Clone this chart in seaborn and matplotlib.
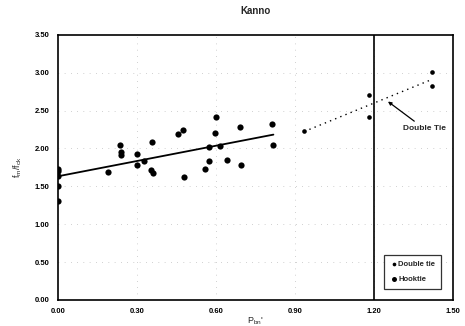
import numpy as np
import pandas as pd
import matplotlib
matplotlib.use("Agg")
import matplotlib.pyplot as plt
import seaborn as sns

# values
hook_x = [0.00, 0.00, 0.00, 0.00, 0.00, 0.19, 0.235, 0.238, 0.24, 0.30, 0.30,
          0.325, 0.357, 0.352, 0.36, 0.456, 0.476, 0.48, 0.56, 0.575, 0.575,
          0.598, 0.599, 0.615, 0.643, 0.691, 0.695, 0.814, 0.818]
hook_y = [1.73, 1.70, 1.64, 1.50, 1.30, 1.69, 2.05, 1.95, 1.91, 1.93, 1.78,
          1.84, 2.09, 1.71, 1.67, 2.19, 2.25, 1.62, 1.73, 1.84, 2.02,
          2.20, 2.42, 2.03, 1.85, 2.29, 1.78, 2.32, 2.05]
dbl_x = [0.935, 1.18, 1.18, 1.42, 1.42]
dbl_y = [2.23, 2.71, 2.42, 3.01, 2.82]

x_ticks = [0.00, 0.30, 0.60, 0.90, 1.20, 1.50]
y_ticks = [0.00, 0.50, 1.00, 1.50, 2.00, 2.50, 3.00, 3.50]

sns.set_style("white")
plt.rcParams["font.family"] = ["Liberation Sans", "DejaVu Sans"]
plt.rcParams["mathtext.default"] = "regular"

fig = plt.figure(figsize=(4.65, 3.26), dpi=100)
ax = fig.add_axes([0.1247, 0.080, 0.8495, 0.813])

# faint dotted grid
for gx in x_ticks[1:-1]:
    ax.axvline(gx, color="0.65", lw=0.5, ls=(0, (1, 8)), zorder=0)
for gy in y_ticks[1:-1]:
    ax.axhline(gy, color="0.65", lw=0.5, ls=(0, (1, 8)), zorder=0)

hook = pd.DataFrame({"x": hook_x, "y": hook_y})
dbl = pd.DataFrame({"x": dbl_x, "y": dbl_y})

sns.regplot(data=hook, x="x", y="y", ax=ax, ci=None, scatter=False,
            line_kws={"color": "black", "lw": 1.3})
sns.regplot(data=dbl, x="x", y="y", ax=ax, ci=None, scatter=False,
            line_kws={"color": "black", "lw": 1.0, "ls": (0, (1, 3))})

sns.scatterplot(data=dbl, x="x", y="y", ax=ax, color="black", s=11,
                linewidth=0, label="Double tie", zorder=3)
sns.scatterplot(data=hook, x="x", y="y", ax=ax, color="black", s=20,
                linewidth=0, label="Hooktie", zorder=3)

ax.axvline(1.20, color="black", lw=1.2)

ax.annotate("Double Tie", xy=(1.253, 2.62), xytext=(1.31, 2.26),
            fontsize=6, fontweight="bold", va="center", ha="left",
            arrowprops=dict(arrowstyle="-|>", color="black", lw=0.9,
                            mutation_scale=5, shrinkA=1, shrinkB=0))

ax.set_xlim(0, 1.5)
ax.set_ylim(0, 3.5)
ax.set_xticks(x_ticks)
ax.set_yticks(y_ticks)
ax.set_xticklabels([f"{v:.2f}" for v in x_ticks])
ax.set_yticklabels([f"{v:.2f}" for v in y_ticks])
ax.tick_params(labelsize=5.5, length=0, pad=6, colors="black")
for lbl in ax.get_xticklabels() + ax.get_yticklabels():
    lbl.set_fontweight("bold")
for sp in ax.spines.values():
    sp.set_color("black")
    sp.set_linewidth(1.2)

ax.set_xlabel("$P_{bn}$'", fontsize=6.5, labelpad=0)
ax.set_ylabel("$f_m/f_{ck}$", fontsize=6.5, labelpad=8)
ax.set_title("Kanno", fontsize=7, fontweight="bold", pad=15)

leg = ax.legend(loc="lower right", bbox_to_anchor=(0.98, 0.026),
                prop={"size": 5.5, "weight": "bold"},
                frameon=True, fancybox=False, edgecolor="black",
                handletextpad=0.2, handlelength=0.8, borderpad=0.8,
                labelspacing=1.0, markerscale=0.8)
leg.get_frame().set_linewidth(0.9)

fig.savefig("out.png", dpi=100)
